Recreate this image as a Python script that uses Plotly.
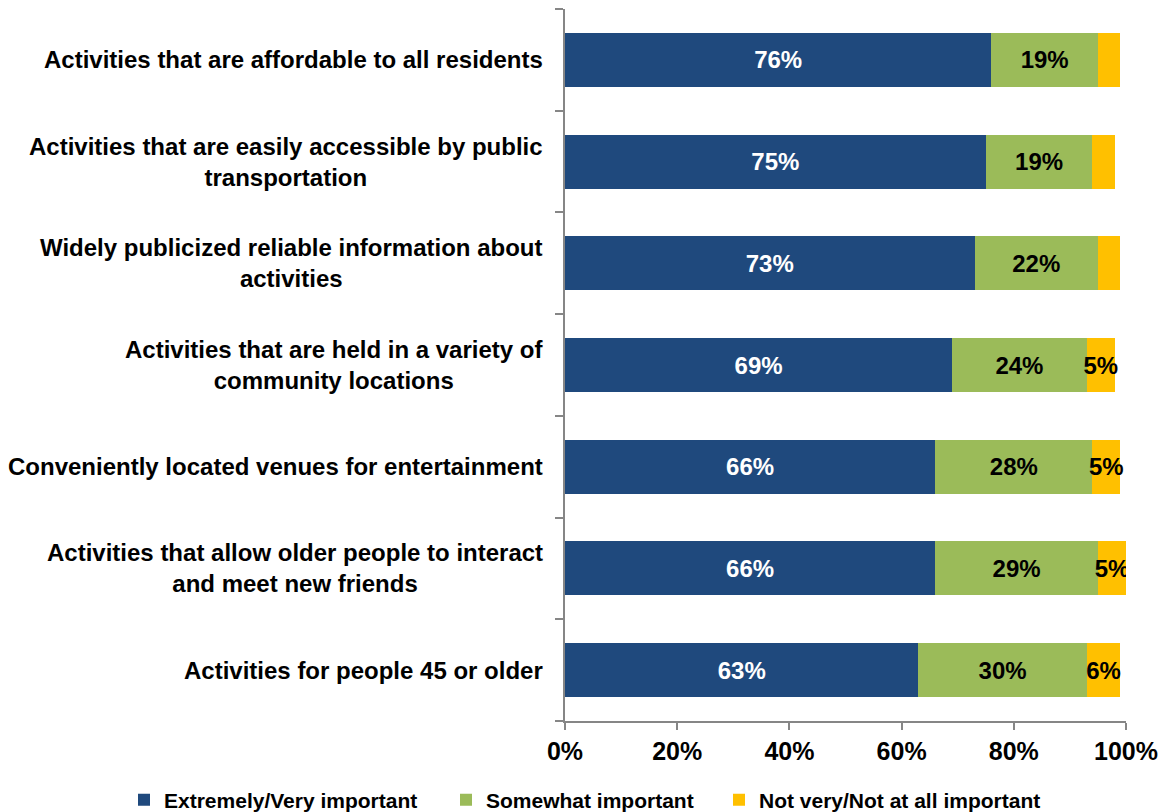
import plotly.graph_objects as go

# Survey items, listed top to bottom
categories = [
    "Activities that are affordable to all residents",
    "Activities that are easily accessible by public<br>transportation",
    "Widely publicized reliable information about<br>activities",
    "Activities that are held in a variety of<br>community locations",
    "Conveniently located venues for entertainment",
    "Activities that allow older people to interact<br>and meet new friends",
    "Activities for people 45 or older",
]
ids = [f"c{i}" for i in range(len(categories))]

extremely_very = [76, 75, 73, 69, 66, 66, 63]
somewhat = [19, 19, 22, 24, 28, 29, 30]
not_very = [4, 4, 4, 5, 5, 5, 6]

series_names = ["Extremely/Very important", "Somewhat important", "Not very/Not at all important"]
series_colors = ["#1F497D", "#9BBB59", "#FFC000"]
label_colors = ["white", "black", "black"]

FONT = "Liberation Sans, Arial, sans-serif"


def labels(values, min_shown):
    return [f"{v}%" if v >= min_shown else "" for v in values]


fig = go.Figure()
legend_ids = ["legend", "legend2", "legend3"]
for vals, name, color, tcolor, lg, min_shown in zip(
    [extremely_very, somewhat, not_very], series_names, series_colors,
    label_colors, legend_ids, [0, 0, 5]
):
    fig.add_trace(go.Bar(
        y=ids, x=vals, orientation="h", name=name,
        marker=dict(color=color, line=dict(width=0)),
        width=0.53,
        text=labels(vals, min_shown),
        textposition="inside", insidetextanchor="middle",
        textangle=0, constraintext="none",
        textfont=dict(family=FONT, size=24, color=tcolor, weight="bold"),
        hoverinfo="skip",
        legend=lg,
    ))

# Category labels: lines centred, block right-aligned against the axis
for cid, text in zip(ids, categories):
    fig.add_annotation(
        x=0, xref="paper", y=cid, yref="y",
        text=text, showarrow=False,
        xanchor="right", yanchor="middle", align="center",
        xshift=-20,
        font=dict(family=FONT, size=24, color="black", weight="bold"),
    )

legend_common = dict(
    orientation="h", xref="container", yref="container",
    yanchor="middle", y=0.0148, xanchor="left",
    font=dict(family=FONT, size=21, color="black", weight="bold"),
    bgcolor="rgba(0,0,0,0)", itemclick=False, itemdoubleclick=False,
)

fig.update_layout(
    width=1168, height=812,
    margin=dict(l=565, r=42, t=9, b=91),
    barmode="stack",
    plot_bgcolor="white", paper_bgcolor="white",
    showlegend=True,
    legend=dict(x=124 / 1168, **legend_common),
    legend2=dict(x=446 / 1168, **legend_common),
    legend3=dict(x=719 / 1168, **legend_common),
    xaxis=dict(
        range=[0, 100], dtick=20, tick0=0, ticksuffix="%",
        showgrid=False, zeroline=False,
        showline=True, linecolor="#868686", linewidth=2,
        ticks="outside", ticklen=7, tickcolor="#868686", tickwidth=2,
        tickfont=dict(family=FONT, size=25, color="black", weight="bold"),
    ),
    yaxis=dict(
        categoryorder="array", categoryarray=ids[::-1],
        showticklabels=False, showgrid=False, zeroline=False,
        showline=True, linecolor="#868686", linewidth=2,
        ticks="outside", ticklen=8, tickcolor="#868686", tickwidth=2,
        tickson="boundaries",
    ),
)

fig.write_html("out.html")
